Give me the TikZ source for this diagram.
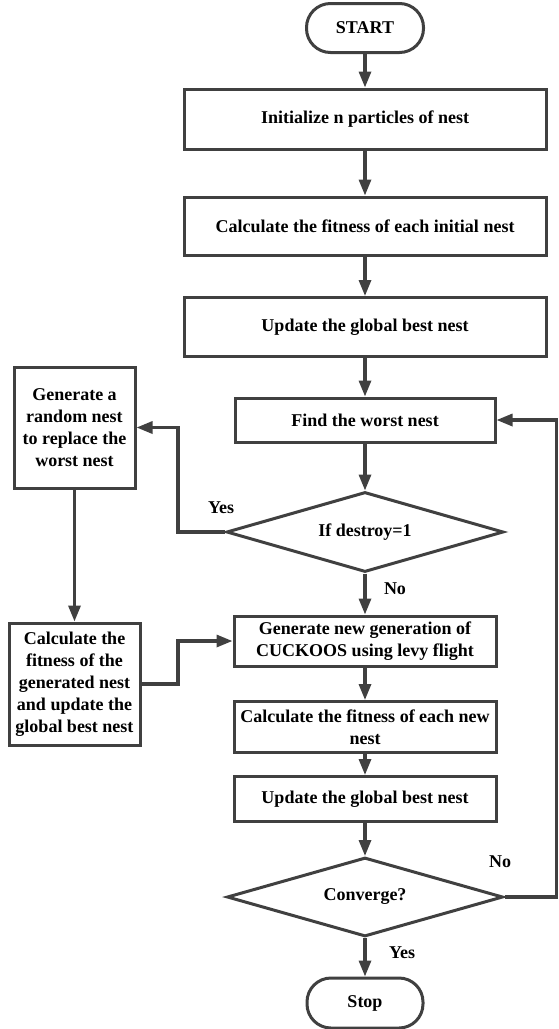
\documentclass[tikz,border=0pt]{standalone}
\usepackage{fontspec}
\setmainfont{Liberation Serif}
\usetikzlibrary{shapes.geometric,arrows.meta}
\definecolor{lc}{HTML}{404040}
\begin{document}
\begin{tikzpicture}[x=1pt,y=-1pt,
  font=\fontsize{18}{22}\selectfont\bfseries,
  box/.style={draw=lc,line width=3pt,rectangle,inner sep=2pt,align=center},
  term/.style={box,rounded corners=24pt},
  dec/.style={draw=lc,line width=3pt,diamond,aspect=3.5,inner sep=0pt},
  arr/.style={draw=lc,line width=3.2pt,-{Triangle[length=16pt,width=12pt]}},
  lab/.style={inner sep=0pt}]
\useasboundingbox (0,0) rectangle (558,1029);
\node[term,minimum width=117pt,minimum height=49pt] (start) at (365,28) {START};
\node[box,minimum width=362pt,minimum height=60pt] (b1) at (365,119) {Initialize n particles of nest};
\node[box,minimum width=362pt,minimum height=58pt] (b2) at (365,226) {Calculate the fitness of each initial nest};
\node[box,minimum width=362pt,minimum height=59pt] (b3) at (365,327) {Update the global best nest};
\node[box,minimum width=260pt,minimum height=44pt] (worst) at (365,420) {Find the worst nest};
\node[dec,minimum width=277pt,minimum height=80pt] (d1) at (365,532) {If destroy=1};
\node[box,minimum width=262pt,minimum height=50pt] (gen) at (365,641) {Generate new generation of\\CUCKOOS using levy flight};
\node[box,minimum width=262pt,minimum height=51pt] (calcnew) at (365,727) {Calculate the fitness of each new\\nest};
\node[box,minimum width=262pt,minimum height=45pt] (upd) at (365,799) {Update the global best nest};
\node[dec,minimum width=276pt,minimum height=79pt] (d2) at (365,897) {Converge?};
\node[term,minimum width=116pt,minimum height=50pt] (stop) at (365,1003) {Stop};
\node[box,minimum width=121pt,minimum height=121pt] (rand) at (74.5,427.5) {Generate a\\random nest\\to replace the\\worst nest};
\node[box,minimum width=131pt,minimum height=122pt] (calcgen) at (74.5,684) {Calculate the\\fitness of the\\generated nest\\and update the\\global best nest};
\node[lab] (yes1) at (221,508) {Yes};
\node[lab] (no1) at (395,589) {No};
\node[lab] (no2) at (500,862) {No};
\node[lab] (yes2) at (402,953) {Yes};
\coordinate (ly) at (178,532);
\coordinate (lg) at (178,684);
\coordinate (rr) at (556.5,897);
\draw[arr] (start) -- (b1);
\draw[arr] (b1) -- (b2);
\draw[arr] (b2) -- (b3);
\draw[arr] (b3) -- (worst);
\draw[arr] (worst) -- (d1);
\draw[arr] (d1) -- (gen);
\draw[arr] (gen) -- (calcnew);
\draw[arr] (calcnew) -- (upd);
\draw[arr] (upd) -- (d2);
\draw[arr] (d2) -- (stop);
\draw[arr] (d1.west) -- (ly) |- (rand.east);
\draw[arr] (rand) -- (calcgen);
\draw[arr] (calcgen.east) -- (lg) |- (gen.west);
\draw[arr] (d2.east) -- (rr) |- (worst.east);
\end{tikzpicture}
\end{document}
